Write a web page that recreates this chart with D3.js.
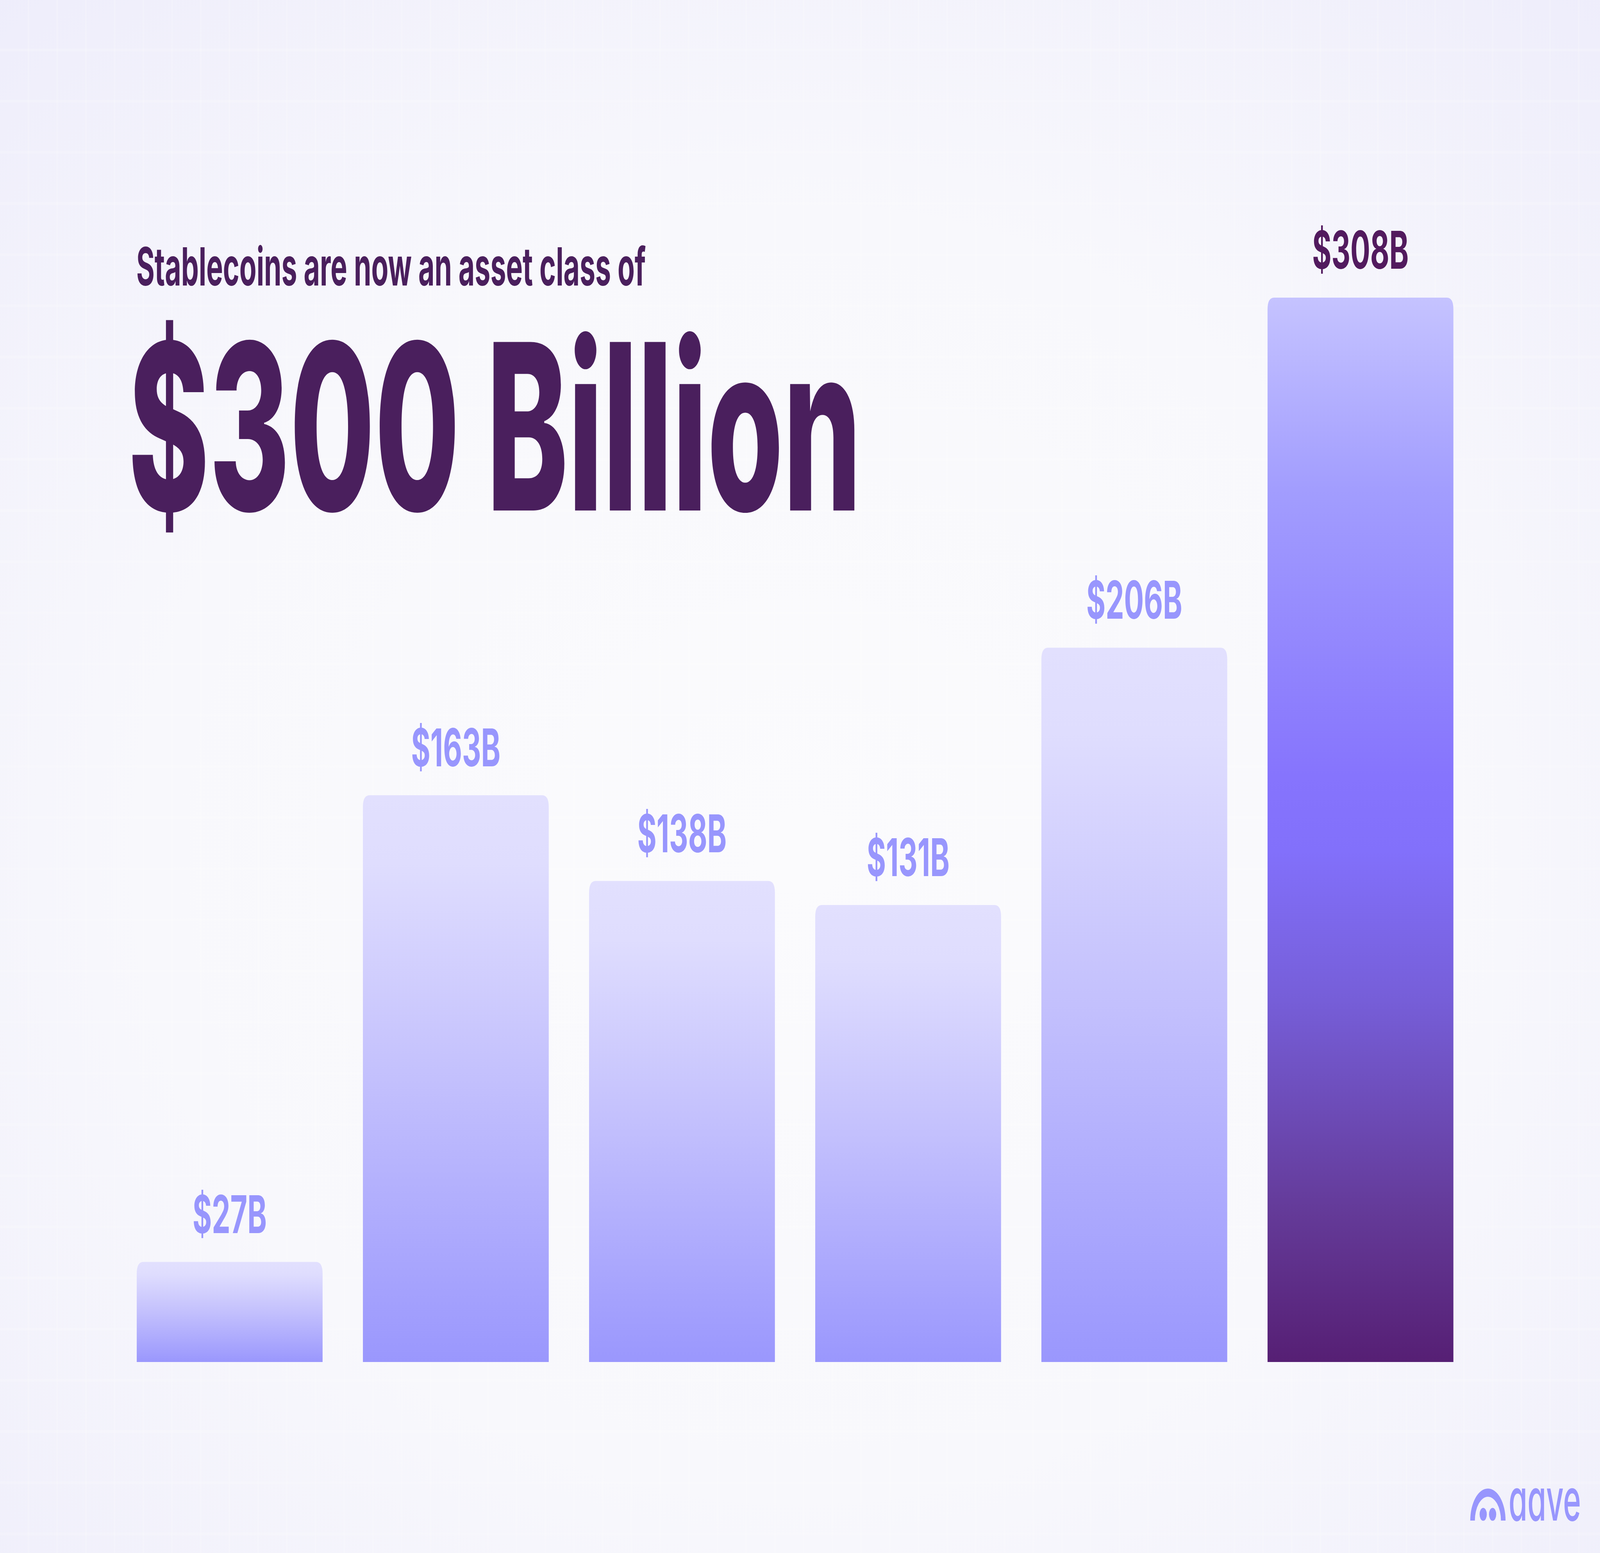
<!DOCTYPE html>
<html>
<head>
<meta charset="utf-8">
<script src="https://cdn.jsdelivr.net/npm/d3@7"></script>
<style>
  html, body { margin: 0; padding: 0; background: #f6f5fc; overflow: hidden; }
  #wrapper { width: 100vw; height: 100vh; }
  svg { display: block; width: 100%; height: 100%; }
</style>
</head>
<body>
<div id="wrapper"></div>
<script>
// values in billions of USD
const values = [27, 163, 138, 131, 206, 308]
const valueLabels = ["$27B", "$163B", "$138B", "$131B", "$206B", "$308B"]
const highlight = [false, false, false, false, false, true]
const kicker = "Stablecoins are now an asset class of"
const headline = "$300 Billion"

const dimensions = {
    width: 7301,
    height: 3976,
    baseline: 3487,
}

// the drawing is laid out on the 7301x3976 frame and fills the window
const svg = d3.select("#wrapper")
    .append("svg")
        .attr("viewBox", `0 0 ${dimensions.width} ${dimensions.height}`)
        .attr("preserveAspectRatio", "none")

const defs = svg.append("defs")

// background wash
const bg = defs.append("radialGradient")
    .attr("id", "bg")
    .attr("cx", "50%").attr("cy", "55%").attr("r", "75%")
bg.append("stop").attr("offset", "0%").attr("stop-color", "#fbfbfd")
bg.append("stop").attr("offset", "55%").attr("stop-color", "#f8f8fc")
bg.append("stop").attr("offset", "100%").attr("stop-color", "#eeedfb")

const light = defs.append("linearGradient")
    .attr("id", "barLight")
    .attr("x1", 0).attr("y1", 0).attr("x2", 0).attr("y2", 1)
light.selectAll("stop")
    .data([["0%", "#e2e0fe"], ["12%", "#dfddfe"], ["50%", "#c3c0fd"], ["100%", "#9a97fd"]])
    .join("stop")
        .attr("offset", d => d[0])
        .attr("stop-color", d => d[1])

const dark = defs.append("linearGradient")
    .attr("id", "barDark")
    .attr("x1", 0).attr("y1", 0).attr("x2", 0).attr("y2", 1)
dark.selectAll("stop")
    .data([["0%", "#c5c3ff"], ["18%", "#a29dfe"], ["45%", "#8674fd"], ["52%", "#8270fb"],
           ["66%", "#765ed8"], ["86%", "#643a98"], ["100%", "#561f74"]])
    .join("stop")
        .attr("offset", d => d[0])
        .attr("stop-color", d => d[1])

svg.append("rect")
    .attr("width", dimensions.width)
    .attr("height", dimensions.height)
    .attr("fill", "url(#bg)")

// very faint grid in the backdrop
const grid = svg.append("g")
    .attr("stroke", "#ffffff")
    .attr("stroke-opacity", 0.18)
    .attr("stroke-width", 7)
grid.selectAll("line.v")
    .data(d3.range(130, dimensions.width, 131))
    .join("line")
        .attr("class", "v")
        .attr("x1", d => d).attr("x2", d => d)
        .attr("y1", 0).attr("y2", dimensions.height)
grid.selectAll("line.h")
    .data(d3.range(128, dimensions.height, 131))
    .join("line")
        .attr("class", "h")
        .attr("y1", d => d).attr("y2", d => d)
        .attr("x1", 0).attr("x2", dimensions.width)

const xScale = d3.scaleBand()
    .domain(d3.range(values.length))
    .range([624, 6632])
    .paddingInner(0.1783)
    .paddingOuter(0)

const yScale = d3.scaleLinear()
    .domain([0, 308])
    .range([dimensions.baseline - 19, 762])

const r = 30
const barPath = (d, i) => {
    const x0 = xScale(i)
    const x1 = x0 + xScale.bandwidth()
    const top = yScale(d)
    const b = dimensions.baseline
    return `M${x0},${b}V${top + r}Q${x0},${top} ${x0 + r},${top}H${x1 - r}Q${x1},${top} ${x1},${top + r}V${b}Z`
}

const bars = svg.append("g")
bars.selectAll("path")
    .data(values)
    .join("path")
        .attr("d", barPath)
        .attr("fill", (d, i) => highlight[i] ? "url(#barDark)" : "url(#barLight)")

svg.append("g")
    .selectAll("text")
    .data(values)
    .join("text")
        .attr("x", (d, i) => xScale(i) + xScale.bandwidth() / 2)
        .attr("y", d => yScale(d) - 74)
        .attr("text-anchor", "middle")
        .attr("font-family", "Inter, 'Noto Sans', sans-serif")
        .attr("font-weight", 700)
        .attr("font-size", 134)
        .attr("fill", (d, i) => highlight[i] ? "#521a5e" : "#9896fd")
        .text((d, i) => valueLabels[i])

// titles
svg.append("text")
    .attr("x", 622)
    .attr("y", 731)
    .attr("font-family", "Inter, 'Noto Sans', sans-serif")
    .attr("font-weight", 700)
    .attr("font-size", 135)
    .attr("fill", "#4a1f5d")
    .attr("textLength", 2325)
    .attr("lengthAdjust", "spacingAndGlyphs")
    .text(kicker)

svg.append("text")
    .attr("x", 585)
    .attr("y", 1307)
    .attr("font-family", "Inter, 'Noto Sans', sans-serif")
    .attr("font-weight", 800)
    .attr("font-size", 593)
    .attr("fill", "#4a1f5d")
    .attr("textLength", 3345)
    .attr("lengthAdjust", "spacingAndGlyphs")
    .text(headline)

// aave mark, bottom right
const logo = svg.append("g").attr("fill", "#9896fd")
logo.append("path")
    .attr("d", "M6709,3893 A80.5,82 0 0 1 6870,3893 L6849,3893 A59.5,61 0 0 0 6730,3893 Z")
logo.selectAll("ellipse")
    .data([6768, 6811])
    .join("ellipse")
        .attr("cx", d => d)
        .attr("cy", 3877)
        .attr("rx", 16.5)
        .attr("ry", 16.5)
logo.append("text")
    .attr("x", 6884)
    .attr("y", 3893)
    .attr("font-family", "Inter, sans-serif")
    .attr("font-weight", 500)
    .attr("font-size", 150)
    .style("font-feature-settings", "'cv11' 1")
    .attr("textLength", 330)
    .attr("lengthAdjust", "spacingAndGlyphs")
    .text("aave")
</script>
</body>
</html>
